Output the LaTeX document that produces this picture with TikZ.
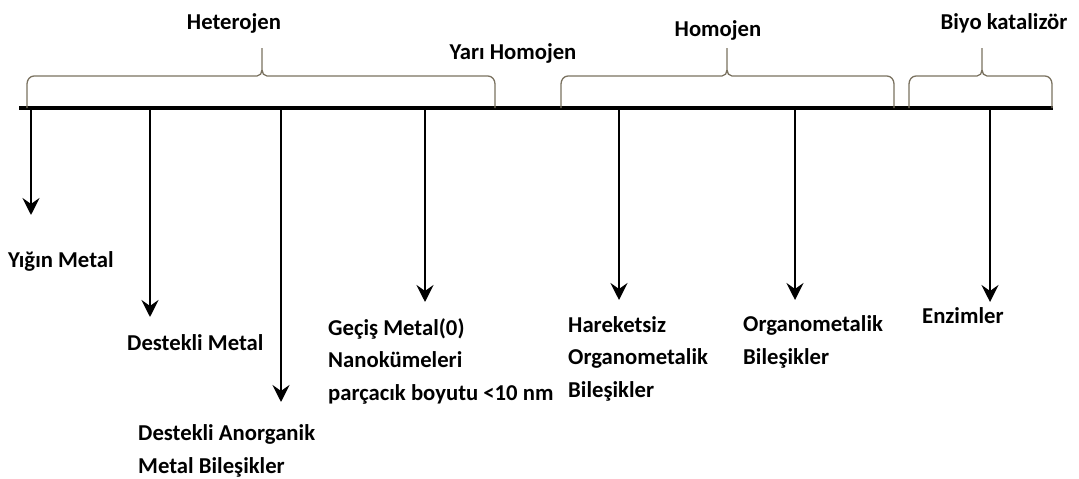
\documentclass[tikz,border=0pt]{standalone}
\usepackage{fontspec}
\setmainfont{Carlito}
\usepackage{tikz}
\usetikzlibrary{arrows.meta,positioning}
\definecolor{bracegray}{RGB}{122,114,96}
\tikzset{
  cat-axis/.style={draw=black, line width=3.2pt},
  cat-arrow/.style={draw=black, line width=2.8pt, -{Stealth[length=17pt, width=17pt, inset=6pt]}},
  cat-brace/.style={draw=bracegray, line width=1.3pt},
  cat-label/.style={font=\bfseries\fontsize{22.7}{32.5}\selectfont, inner sep=0pt, align=left, anchor=base west},
  cat-group/.style={font=\bfseries\fontsize{22.7}{27}\selectfont, inner sep=0pt, anchor=base}
}

\begin{document}
\begin{tikzpicture}[x=1pt, y=-1pt]
  \useasboundingbox (0,0) rectangle (1079,479);
  % main axis
  \coordinate (axis-l) at (19,108);
  \coordinate (axis-r) at (1053,108);
  \draw[cat-axis] (axis-l) -- (axis-r);
  % braces over the axis
  \foreach \xl/\xm/\xr in {27/262/495, 561/727/894, 909/982/1052} {
    \draw[cat-brace] (\xl,108) -- (\xl,84) to[out=90,in=180] (\xl+7,76) -- (\xm-5,76) to[out=0,in=-90] (\xm,70) -- (\xm,48);
    \draw[cat-brace] (\xr,108) -- (\xr,84) to[out=90,in=0] (\xr-7,76) -- (\xm+5,76) to[out=180,in=-90] (\xm,70);
  }
  \node[cat-group] (hetero) at (234,29) {Heterojen};
  \node[cat-group] (semi) at (513,59) {Yarı Homojen};
  \node[cat-group] (homo) at (718,36) {Homojen};
  \node[cat-group] (bio) at (1004,29) {Biyo katalizör};
  % arrows down from the axis
  \foreach \name/\x/\tip in {bulk/31/215, supp/150/317, inorg/281/402, nano/425/302, immob/619/300, organo/795/300, enzym/990/302} {
    \coordinate (top-\name) at (\x,108);
    \coordinate (tip-\name) at (\x,\tip);
    \draw[cat-arrow] (top-\name) -- (tip-\name);
  }
  % labels (base = last line)
  \node[cat-label] (bulk) at (8,267) {Yığın Metal};
  \node[cat-label] (supp) at (127,350) {Destekli Metal};
  \node[cat-label] (inorg) at (138,473) {Destekli Anorganik\\Metal Bileşikler};
  \node[cat-label] (nano) at (328,400) {Geçiş Metal(0)\\Nanokümeleri\\parçacık boyutu <10 nm};
  \node[cat-label] (immob) at (568,397) {Hareketsiz\\Organometalik\\Bileşikler};
  \node[cat-label] (organo) at (743,364) {Organometalik\\Bileşikler};
  \node[cat-label] (enzym) at (922,323) {Enzimler};
\end{tikzpicture}
\end{document}
